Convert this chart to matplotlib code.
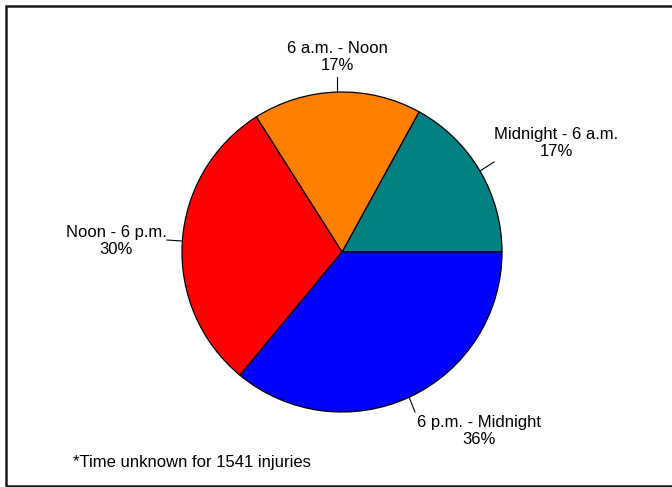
import matplotlib
matplotlib.use("Agg")
import matplotlib.pyplot as plt
from matplotlib.patches import Rectangle

labels = ["Midnight - 6 a.m.", "6 a.m. - Noon", "Noon - 6 p.m.", "6 p.m. - Midnight"]
shares = [17, 17, 30, 36]
colors = ["#008080", "#FF8000", "#FF0000", "#0000FF"]
note = "*Time unknown for 1541 injuries"

plt.rcParams['font.family'] = ['Liberation Sans', 'DejaVu Sans']

W, H = 672, 487
fig = plt.figure(figsize=(W / 100, H / 100), dpi=100)
ax = fig.add_axes([0, 0, 1, 1])

# pie in pixel coordinates (y measured from the bottom)
cx, cy, r = 342, H - 252, 160
ax.pie(shares, colors=colors, startangle=0, counterclock=True,
       center=(cx, cy), radius=r,
       wedgeprops=dict(edgecolor="black", linewidth=0.9))
ax.set_xlim(0, W)
ax.set_ylim(0, H)
ax.set_aspect("auto")
ax.axis("off")

# label anchors: (line start on pie edge, line end, text centre)
layout = [
    ((480, 171), (494, 162), (556, 143)),
    ((337, 92), (337, 77), (337, 57)),
    ((182, 241), (167, 240), (116, 241)),
    ((409, 397), (415, 412), (479, 431)),
]
for lab, val, (p0, p1, t) in zip(labels, shares, layout):
    ax.plot([p0[0], p1[0]], [H - p0[1], H - p1[1]], color="black", lw=0.8)
    ax.text(t[0], H - t[1], "%s\n%d%%" % (lab, val), ha="center", va="center",
            fontsize=12, linespacing=1.22)

ax.text(73, H - 467, note, ha="left", va="baseline", fontsize=12)

# frame around the chart
fig.patches.append(Rectangle((6 / W, 1 / H), 1.2, (H - 6.5) / H, transform=fig.transFigure,
                             fill=False, edgecolor="#1a1a1a", linewidth=1.8))

fig.savefig("out.png", dpi=100)
